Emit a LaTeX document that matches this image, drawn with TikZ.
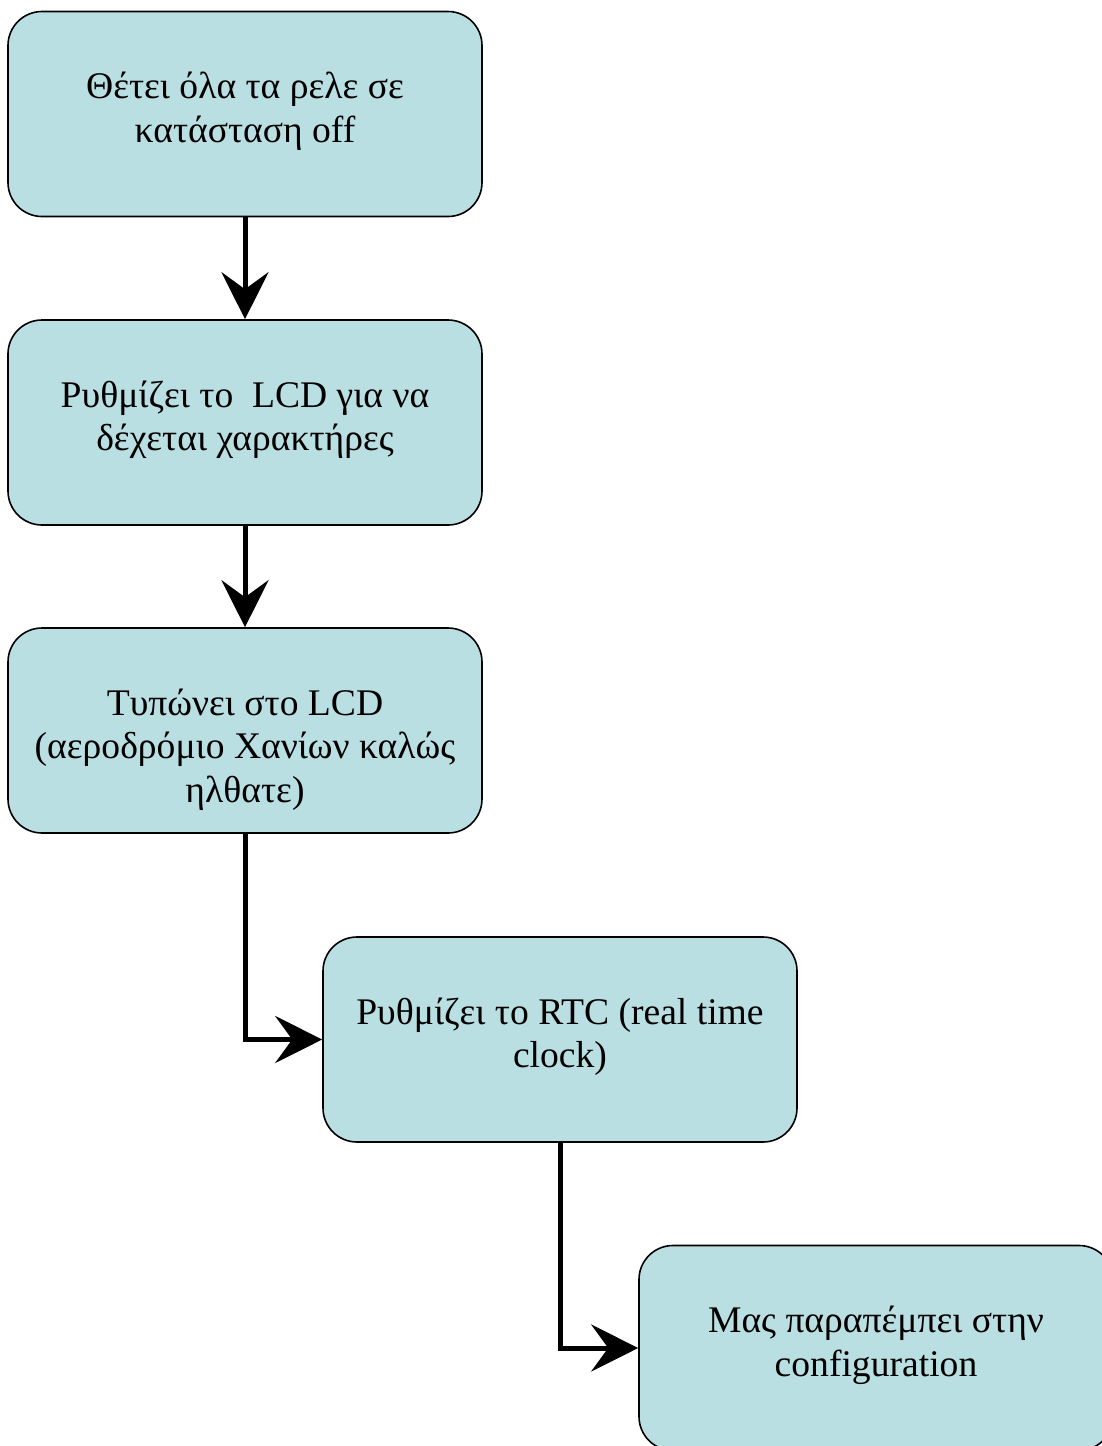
\documentclass[tikz,border=0pt]{standalone}
\usepackage{fontspec}
\setmainfont{Liberation Serif}
\usetikzlibrary{arrows.meta}

\definecolor{boxfill}{RGB}{186,223,227}

% box text: top-aligned, first baseline a fixed distance below the top edge
\newcommand{\boxtext}[1]{%
  \parbox[c][205pt][t]{474pt}{\centering\fontsize{37.6pt}{43.5pt}\selectfont
    \rule{0pt}{87pt}#1\par}}

\tikzset{
  stepbox/.style={draw=black, line width=1.6pt, fill=boxfill,
    rounded corners=34pt, inner sep=0pt, anchor=center},
  flow/.style={line width=5pt, line join=miter,
    -{Stealth[length=47pt, width=47pt, inset=17pt]}}
}

\begin{document}
\begin{tikzpicture}[x=1pt, y=-1pt]
  \useasboundingbox (0,0) rectangle (1102,1446);

  \node[stepbox] (b1) at (245,114)    {\boxtext{Θέτει όλα τα ρελε σε\\ κατάσταση off}};
  \node[stepbox] (b2) at (245,422.5)  {\boxtext{Ρυθμίζει το~ LCD για να\\ δέχεται χαρακτήρες}};
  \node[stepbox] (b3) at (245,730.5)  {\boxtext{Τυπώνει στο LCD\\ (αεροδρόμιο Χανίων καλώς\\ ηλθατε)}};
  \node[stepbox] (b4) at (560,1039.5) {\boxtext{Ρυθμίζει το RTC (real time\\ clock)}};
  \node[stepbox] (b5) at (876,1348)   {\boxtext{Μας παραπέμπει στην\\ configuration}};

  \draw[flow] (b1.south) -- (b2.north);
  \draw[flow] (b2.south) -- (b3.north);
  \draw[flow] (b3.south) |- (b4.west);
  \draw[flow] (b4.south) |- (b5.west);
\end{tikzpicture}
\end{document}
